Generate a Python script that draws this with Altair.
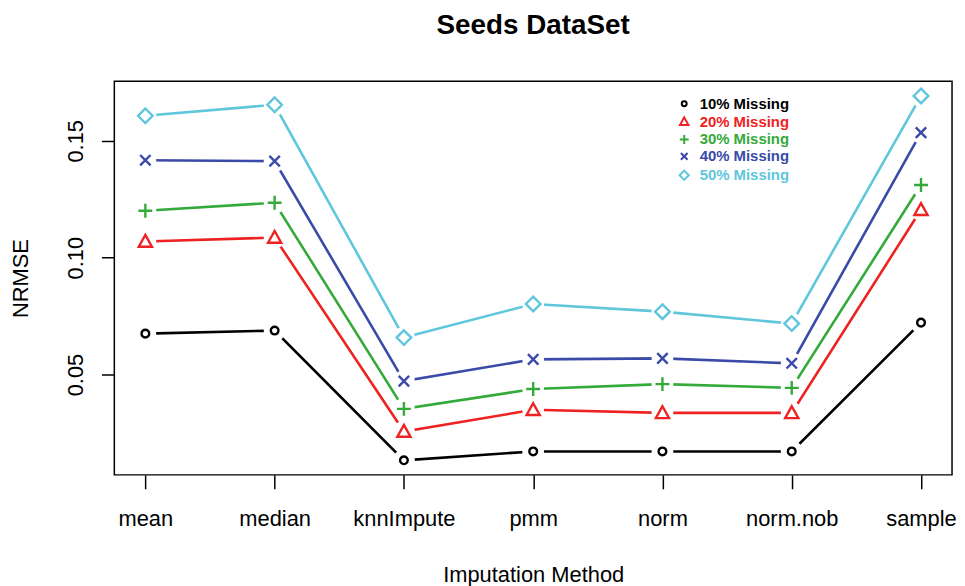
import altair as alt
import pandas as pd

methods = ["mean", "median", "knnImpute", "pmm", "norm", "norm.nob", "sample"]
series_names = ["10% Missing", "20% Missing", "30% Missing", "40% Missing", "50% Missing"]
m10 = [0.0675, 0.0688, 0.0133, 0.0171, 0.0171, 0.0171, 0.0722]
m20 = [0.1069, 0.1086, 0.0256, 0.0349, 0.0336, 0.0336, 0.1205]
m30 = [0.1201, 0.1235, 0.0353, 0.0438, 0.0459, 0.0443, 0.1311]
m40 = [0.1417, 0.1413, 0.0472, 0.0565, 0.0569, 0.0548, 0.1535]
m50 = [0.1607, 0.1654, 0.0658, 0.0802, 0.0769, 0.0718, 0.1692]
colors = ["#000000", "#EE2222", "#33AA3A", "#3A4AA8", "#5FC6DC"]
y_ticks = [0.05, 0.10, 0.15]

shapes = [
    "M0.55,0A0.55,0.55,0,1,1,-0.55,0A0.55,0.55,0,1,1,0.55,0Z",
    "M0,-0.95L0.95,0.75L-0.95,0.75Z",
    "M-1,0L1,0M0,-1L0,1",
    "M-0.75,-0.75L0.75,0.75M-0.75,0.75L0.75,-0.75",
    "M0,-1.05L1.05,0L0,1.05L-1.05,0Z",
]

rows = []
for name, vals in zip(series_names, [m10, m20, m30, m40, m50]):
    for m, v in zip(methods, vals):
        rows.append({"method": m, "series": name, "NRMSE": v})
df = pd.DataFrame(rows)

allv = m10 + m20 + m30 + m40 + m50
lo, hi = min(allv), max(allv)
pad = (hi - lo) * 0.04
ydom = [lo - pad, hi + pad]

FONT = "Liberation Sans"

x_enc = alt.X(
    "method:N",
    sort=methods,
    scale=alt.Scale(type="point", padding=0.24),
    axis=alt.Axis(
        title="Imputation Method",
        labelAngle=0,
        labelFontSize=22,
        labelFont=FONT,
        labelColor="black",
        labelBaseline="alphabetic",
        labelPadding=37,
        tickSize=14,
        tickColor="black",
        tickWidth=1.5,
        domain=False,
        grid=False,
        titleFontSize=22,
        titleFont=FONT,
        titleFontWeight="normal",
        titleColor="black",
        titleBaseline="alphabetic",
        titleY=107,
    ),
)
y_enc = alt.Y(
    "NRMSE:Q",
    scale=alt.Scale(domain=ydom, nice=False, zero=False),
    axis=alt.Axis(
        title="NRMSE",
        values=y_ticks,
        format=".2f",
        labelAngle=270,
        labelAlign="center",
        labelBaseline="alphabetic",
        labelPadding=19,
        labelFontSize=22,
        labelFont=FONT,
        labelColor="black",
        tickSize=13,
        tickColor="black",
        tickWidth=1.5,
        domain=False,
        grid=False,
        titleFontSize=22,
        titleFont=FONT,
        titleFontWeight="normal",
        titleColor="black",
        titleAngle=270,
        titleAlign="center",
        titleBaseline="alphabetic",
        titleX=-87,
        titleY=198,
    ),
)

color_scale = alt.Scale(domain=series_names, range=colors)
shape_scale = alt.Scale(domain=series_names, range=shapes)
label_color_expr = (
    "datum.label == '10% Missing' ? '#000000' : "
    "datum.label == '20% Missing' ? '#EE2222' : "
    "datum.label == '30% Missing' ? '#33AA3A' : "
    "datum.label == '40% Missing' ? '#3A4AA8' : '#5FC6DC'"
)

legend = alt.Legend(
    title=None,
    orient="none",
    legendX=566,
    legendY=15,
    direction="vertical",
    labelFontSize=15,
    labelFont=FONT,
    labelFontWeight="bold",
    labelColor=alt.ExprRef(label_color_expr),
    labelOffset=8,
    rowPadding=1,
    symbolSize=80,
    symbolStrokeWidth=2,
    padding=0,
)

base = alt.Chart(df)

lines = base.mark_line(strokeWidth=2.6).encode(
    x=x_enc,
    y=y_enc,
    color=alt.Color("series:N", scale=color_scale, legend=legend),
)

masks = base.mark_point(filled=True, shape="circle", size=480, opacity=1).encode(
    x=x_enc,
    y=y_enc,
    color=alt.value("white"),
    detail="series:N",
)

points = base.mark_point(filled=False, size=196, strokeWidth=2.4, opacity=1).encode(
    x=x_enc,
    y=y_enc,
    color=alt.Color("series:N", scale=color_scale, legend=legend),
    shape=alt.Shape("series:N", scale=shape_scale, legend=legend),
)

chart = (
    alt.layer(lines, masks, points)
    .properties(
        width=843,
        height=396,
        autosize=alt.AutoSizeParams(type="none"),
        padding={"left": 107, "top": 72, "right": 5, "bottom": 110},
        title=alt.TitleParams(
            "Seeds DataSet",
            fontSize=28,
            font=FONT,
            fontWeight="bold",
            color="black",
            anchor="middle",
            baseline="alphabetic",
            offset=20,
        ),
    )
    .configure(background="white")
    .configure_view(stroke="black", strokeWidth=1.5)
)

chart.save("out.html", embed_options={"renderer": "svg", "actions": False})
